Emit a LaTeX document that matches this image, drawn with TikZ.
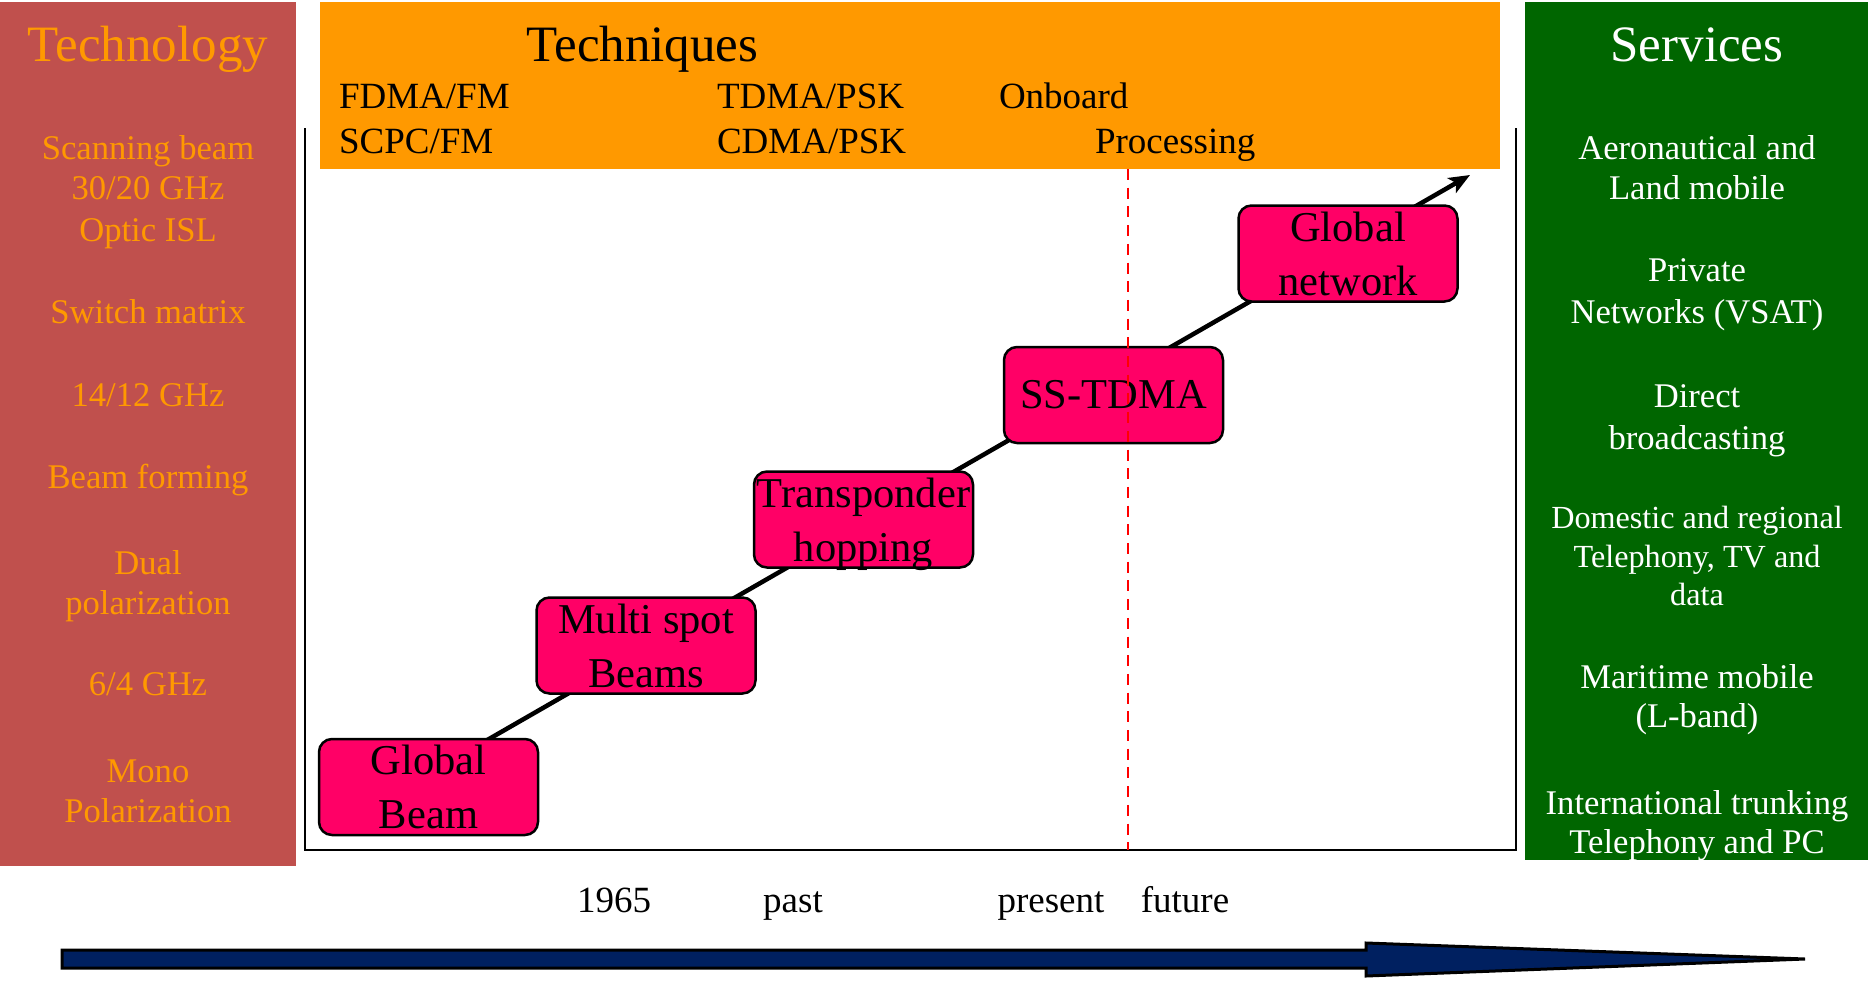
\documentclass[tikz,border=0pt]{standalone}
\usepackage{fontspec}
\setmainfont{Liberation Serif}
\usetikzlibrary{arrows.meta,backgrounds}
\definecolor{techred}{HTML}{C0504D}
\definecolor{techorange}{HTML}{FF9900}
\definecolor{servgreen}{HTML}{006600}
\definecolor{stagepink}{HTML}{FF0066}
\definecolor{timenavy}{HTML}{002060}
\begin{document}
\begin{tikzpicture}[x=1pt,y=-1pt,
  every node/.style={inner sep=0pt, outer sep=0pt},
  title/.style={font=\fontsize{51}{60}\selectfont, anchor=base},
  techtxt/.style={font=\fontsize{34.6}{41}\selectfont, text=techorange, anchor=base},
  servtxt/.style={font=\fontsize{34.6}{41}\selectfont, text=white, anchor=base},
  servsmall/.style={servtxt, font=\fontsize{32.2}{38}\selectfont},
  methtxt/.style={font=\fontsize{37}{44}\selectfont, anchor=base west},
  yeartxt/.style={font=\fontsize{37}{44}\selectfont, anchor=base},
  stage/.style={draw=black, line width=2.5pt, fill=stagepink, rounded corners=13pt,
    minimum width=219pt, minimum height=96pt, align=center,
    font=\fontsize{42.5}{54}\selectfont},
  axisline/.style={line width=2.6pt, black},
  trend/.style={line width=4.5pt, black, -{Stealth[length=21pt, width=17pt, inset=5pt]}},
  nowline/.style={red, line width=2.6pt, dash pattern=on 11pt off 7.7pt},
  timearrow/.style={draw=black, line width=3pt, fill=timenavy, line join=miter}
]
\useasboundingbox (0,0) rectangle (1874,980);

% column panels
\fill[techred] (0,2) rectangle (296,866);
\fill[techorange] (320,2) rectangle (1500,169);
\fill[servgreen] (1525,2) rectangle (1868,860);

% titles
\node[title, text=techorange] (techtitle) at (148,61) {Technology};
\node[title] (methtitle) at (642.5,61) {Techniques};
\node[title, text=white] (servtitle) at (1697,61) {Services};

% technology list
\node[techtxt] (tech1) at (148,159) {Scanning beam};
\node[techtxt] (tech2) at (148,199) {30/20 GHz};
\node[techtxt] (tech3) at (148,241) {Optic ISL};
\node[techtxt] (tech4) at (148,323) {Switch matrix};
\node[techtxt] (tech5) at (148,406) {14/12 GHz};
\node[techtxt] (tech6) at (148,488) {Beam forming};
\node[techtxt] (tech7) at (148,574) {Dual};
\node[techtxt] (tech8) at (148,614) {polarization};
\node[techtxt] (tech9) at (148,695) {6/4 GHz};
\node[techtxt] (tech10) at (148,782) {Mono};
\node[techtxt] (tech11) at (148,822) {Polarization};

% access techniques
\node[methtxt] (fdma) at (339,108) {FDMA/FM};
\node[methtxt] (scpc) at (339,153) {SCPC/FM};
\node[methtxt] (tdma) at (717,108) {TDMA/PSK};
\node[methtxt] (cdma) at (717,153) {CDMA/PSK};
\node[methtxt] (onboard) at (999,108) {Onboard};
\node[methtxt] (processing) at (1095,153) {Processing};

% services list
\node[servtxt] (serv1) at (1697,159) {Aeronautical and};
\node[servtxt] (serv2) at (1697,199) {Land mobile};
\node[servtxt] (serv3) at (1697,281) {Private};
\node[servtxt] (serv4) at (1697,323) {Networks (VSAT)};
\node[servtxt] (serv5) at (1697,407) {Direct};
\node[servtxt] (serv6) at (1697,449) {broadcasting};
\node[servsmall] (serv7) at (1697,528) {Domestic and regional};
\node[servsmall] (serv8) at (1697,567) {Telephony, TV and};
\node[servsmall] (serv9) at (1697,605) {data};
\node[servtxt] (serv10) at (1697,688) {Maritime mobile};
\node[servtxt] (serv11) at (1697,727) {(L-band)};
\node[servtxt] (serv12) at (1697,814) {International trunking};
\node[servtxt] (serv13) at (1697,853) {Telephony and PC};

% chart frame
\draw[axisline] (305,128) -- (305,850) -- (1516,850) -- (1516,128);

% evolution stages
\node[stage] (GB) at (428.5,787) {Global\\Beam};
\node[stage] (MS) at (646,645.5) {Multi spot\\Beams};
\node[stage] (TH) at (863.5,519.5) {Transponder\\\smash{hopping}};
\node[stage] (SS) at (1113.5,395) {SS-TDMA};
\node[stage] (GN) at (1348,253.5) {Global\\network};
\coordinate (tip) at (1470,175);

% trend line behind the stages
\begin{pgfonlayer}{background}
\draw[trend] ([xshift=-23pt]GB.center) -- (tip);
\end{pgfonlayer}

% present-day marker
\draw[nowline] (1128,169) -- (1128,850);

% time axis labels
\node[yeartxt] (y1965) at (614,912) {1965};
\node[yeartxt] (ypast) at (793,912) {past};
\node[yeartxt] (ypresent) at (1051,912) {present};
\node[yeartxt] (yfuture) at (1185,912) {future};

% time arrow
\draw[timearrow] (62,950) -- (1366,950) -- (1366,943) -- (1805,959)
  -- (1366,976) -- (1366,968) -- (62,968) -- cycle;
\end{tikzpicture}
\end{document}
